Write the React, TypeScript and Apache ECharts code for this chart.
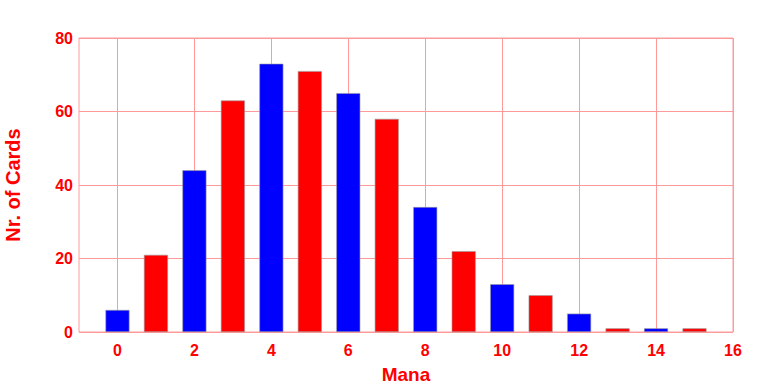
import React, { useEffect, useRef } from "react";
import * as echarts from "echarts";

const manaValues = [0, 1, 2, 3, 4, 5, 6, 7, 8, 9, 10, 11, 12, 13, 14, 15];
const cardCounts = [6, 21, 44, 63, 73, 71, 65, 58, 34, 22, 13, 10, 5, 1, 1, 1];
const xTicks = [0, 2, 4, 6, 8, 10, 12, 14, 16];
const barColors = ["#0000ff", "#ff0000"];

export default function App() {
  const ref = useRef<HTMLDivElement>(null);
  useEffect(() => {
    if (!ref.current) return;
    const chart = echarts.init(ref.current, undefined, { renderer: "svg" });
    const font = "'Liberation Sans', Arial, sans-serif";
    const gridColor = "#ff9a9a";
    chart.setOption({
      animation: false,
      backgroundColor: "#ffffff",
      grid: {
        left: 79, right: 35, top: 38, bottom: 52,
        outerBoundsMode: "none", containLabel: false,
        show: true, borderColor: gridColor, borderWidth: 1,
      },
      xAxis: {
        type: "value",
        min: -1,
        max: 16,
        interval: 1,
        name: "Mana",
        nameLocation: "middle",
        nameGap: 33,
        nameTextStyle: { color: "#ff0000", fontWeight: "bold", fontSize: 19, fontFamily: font },
        axisLine: { show: false },
        axisTick: { show: false },
        axisLabel: {
          color: "#ff0000", fontWeight: "bold", fontSize: 16, fontFamily: font, margin: 10,
          formatter: (v: number) => (xTicks.indexOf(v) >= 0 ? String(v) : ""),
        },
        splitLine: { show: false },
      },
      yAxis: {
        type: "value",
        min: 0,
        max: 80,
        interval: 20,
        name: "Nr. of Cards",
        nameLocation: "middle",
        nameGap: 56,
        nameTextStyle: { color: "#ff0000", fontWeight: "bold", fontSize: 20, fontFamily: font },
        axisLine: { show: false },
        axisTick: { show: false },
        axisLabel: { color: "#ff0000", fontWeight: "bold", fontSize: 16, fontFamily: font, margin: 6 },
        splitLine: { show: true, lineStyle: { color: gridColor, width: 1 } },
      },
      series: [
        {
          type: "bar",
          barWidth: 24,
          z: 3,
          data: manaValues.map((m, i) => ({
            value: [m, cardCounts[i]],
            itemStyle: { color: barColors[m % 2], borderColor: "#9a9a9a", borderWidth: 0.6 },
          })),
          markLine: {
            silent: true,
            symbol: "none",
            label: { show: false },
            lineStyle: { color: gridColor, width: 1, type: "solid" },
            z: 1,
            data: xTicks.map((t) => ({ xAxis: t })),
          },
        },
      ],
    });
    return () => chart.dispose();
  }, []);
  return <div ref={ref} style={{ width: 768, height: 384, position: "absolute", left: 0, top: 0 }} />;
}
